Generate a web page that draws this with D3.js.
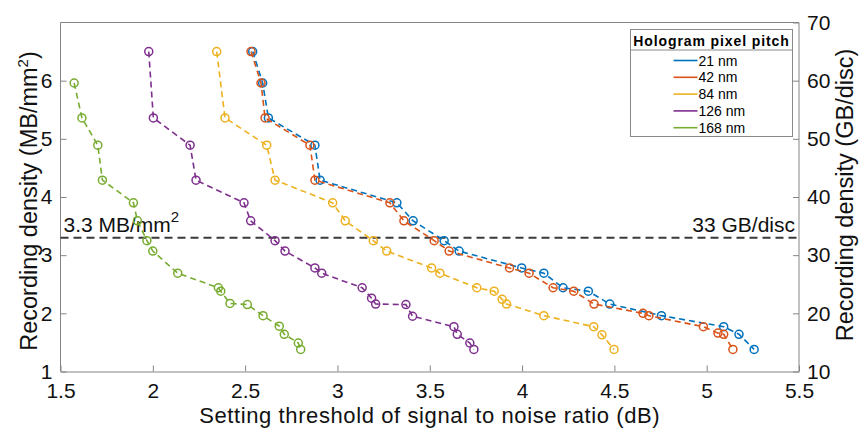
<!DOCTYPE html>
<html>
<head>
<meta charset="utf-8">
<script src="https://cdn.jsdelivr.net/npm/d3@7"></script>
<style>
  html, body { margin: 0; padding: 0; background: #fff; }
  svg { display: block; font-family: "Liberation Sans", Arial, sans-serif; }
</style>
</head>
<body>
<svg id="chart" width="859" height="428"></svg>
<script>
// Hologram pixel pitch series
const pitches = ["21 nm", "42 nm", "84 nm", "126 nm", "168 nm"];
const colors = ["#0072BD", "#D95319", "#EDB120", "#7E2F8E", "#77AC30"];

// Setting threshold of SNR (dB) and recording density (MB/mm^2) per pitch
const snr21  = [2.541, 2.595, 2.626, 2.878, 2.906, 3.322, 3.410, 3.578, 3.659, 3.998, 4.118, 4.222, 4.359, 4.475, 4.755, 5.092, 5.175, 5.257];
const dens21 = [6.50, 5.96, 5.36, 4.89, 4.29, 3.90, 3.59, 3.25, 3.07, 2.78, 2.69, 2.44, 2.38, 2.16, 1.96, 1.77, 1.64, 1.38];

const snr42  = [2.532, 2.586, 2.608, 2.851, 2.878, 3.284, 3.360, 3.524, 3.605, 3.932, 4.038, 4.168, 4.280, 4.390, 4.655, 4.687, 4.982, 5.061, 5.092, 5.142];
const dens42 = [6.50, 5.96, 5.36, 4.89, 4.29, 3.90, 3.59, 3.25, 3.07, 2.78, 2.69, 2.44, 2.38, 2.16, 2.00, 1.96, 1.77, 1.66, 1.64, 1.38];

const snr84  = [2.346, 2.391, 2.617, 2.662, 2.974, 3.042, 3.194, 3.267, 3.510, 3.555, 3.755, 3.849, 3.892, 3.916, 4.118, 4.388, 4.433, 4.498];
const dens84 = [6.50, 5.36, 4.89, 4.29, 3.90, 3.59, 3.25, 3.07, 2.78, 2.69, 2.44, 2.38, 2.24, 2.16, 1.96, 1.77, 1.63, 1.38];

const snr126  = [1.978, 2.003, 2.202, 2.234, 2.494, 2.530, 2.662, 2.716, 2.878, 2.915, 3.134, 3.185, 3.207, 3.371, 3.407, 3.631, 3.649, 3.717, 3.739];
const dens126 = [6.50, 5.36, 4.89, 4.29, 3.90, 3.59, 3.25, 3.07, 2.78, 2.69, 2.44, 2.26, 2.16, 2.15, 1.95, 1.77, 1.64, 1.49, 1.38];

const snr168  = [1.574, 1.616, 1.702, 1.727, 1.895, 1.917, 1.968, 2.000, 2.135, 2.355, 2.368, 2.418, 2.512, 2.597, 2.685, 2.712, 2.788, 2.801];
const dens168 = [5.96, 5.36, 4.89, 4.29, 3.90, 3.59, 3.25, 3.07, 2.69, 2.44, 2.38, 2.17, 2.15, 1.96, 1.78, 1.64, 1.49, 1.38];

// Axis ticks
const xTicks = [1.5, 2, 2.5, 3, 3.5, 4, 4.5, 5, 5.5];
const yLeftTicks = [1, 2, 3, 4, 5, 6];
const yRightTicks = [10, 20, 30, 40, 50, 60, 70];

// Reference capacity
const refDensity = 3.3;
const refLeftLabel = "3.3 MB/mm";
const refRightLabel = "33 GB/disc";

const seriesX = [snr21, snr42, snr84, snr126, snr168];
const seriesY = [dens21, dens42, dens84, dens126, dens168];
const series = pitches.map((name, i) => ({
  name, color: colors[i],
  points: seriesX[i].map((x, j) => ({ x, y: seriesY[i][j] }))
}));

const svg = d3.select("#chart");
const W = 859, H = 428;
const margin = { left: 60.5, right: 60, top: 22.5, bottom: 56.5 };
const x0 = margin.left, x1 = W - margin.right, y0 = H - margin.bottom, y1 = margin.top;

const x = d3.scaleLinear().domain([1.5, 5.5]).range([x0, x1]);
const yL = d3.scaleLinear().domain([1, 7]).range([y0, y1]);
const yR = d3.scaleLinear().domain([10, 70]).range([y0, y1]);

const axisColor = "#858585";
const textColor = "#111";
const fmt = d3.format("~f");

// Axes
const gx = svg.append("g").attr("transform", `translate(0,${y0})`)
  .call(d3.axisBottom(x).tickValues(xTicks).tickFormat(fmt).tickSizeInner(-6).tickSizeOuter(0).tickPadding(12));
const gyl = svg.append("g").attr("transform", `translate(${x0},0)`)
  .call(d3.axisLeft(yL).tickValues(yLeftTicks).tickFormat(fmt).tickSizeInner(-6).tickSizeOuter(0).tickPadding(8));
const gyr = svg.append("g").attr("transform", `translate(${x1},0)`)
  .call(d3.axisRight(yR).tickValues(yRightTicks).tickFormat(fmt).tickSizeInner(-6).tickSizeOuter(0).tickPadding(8));

[gx, gyl, gyr].forEach(g => {
  g.select(".domain").attr("stroke", axisColor).attr("stroke-width", 1);
  g.selectAll(".tick line").attr("stroke", axisColor);
  g.selectAll(".tick text").attr("fill", textColor).style("font-size", "21px")
    .style("font-family", "'Liberation Sans', Arial, sans-serif");
});
gyl.select(".domain").attr("d", `M0,${y0}V${y1}`);
gyr.select(".domain").attr("d", `M0,${y0}V${y1}`);

// Top border
svg.append("line").attr("x1", x0).attr("x2", x1).attr("y1", y1).attr("y2", y1)
  .attr("stroke", axisColor).attr("stroke-width", 1);

// Axis titles
svg.append("text")
  .attr("transform", `translate(${(x0 + x1) / 2},${H - 5})`)
  .attr("text-anchor", "middle").attr("fill", textColor).style("font-size", "22px")
  .style("letter-spacing", "0.6px")
  .text("Setting threshold of signal to noise ratio (dB)");

const lt = svg.append("text")
  .attr("transform", `translate(37,${(y0 + y1) / 2 + 4}) rotate(-90)`)
  .attr("text-anchor", "middle").attr("fill", textColor).style("font-size", "23.5px");
lt.append("tspan").text("Recording density (MB/mm");
lt.append("tspan").attr("dy", -9).style("font-size", "15px").text("2");
lt.append("tspan").attr("dy", 9).text(")");

svg.append("text")
  .attr("transform", `translate(853,${(y0 + y1) / 2 - 2}) rotate(-90)`)
  .attr("text-anchor", "middle").attr("fill", textColor).style("font-size", "23.5px")
  .text("Recording density (GB/disc)");

// Reference line at 3.3 MB/mm^2 (33 GB/disc)
svg.append("line")
  .attr("x1", x0).attr("x2", x1).attr("y1", yL(refDensity)).attr("y2", yL(refDensity))
  .attr("stroke", "#3a3a3a").attr("stroke-width", 2).attr("stroke-dasharray", "8,5");

const rl = svg.append("text").attr("x", x0 + 3).attr("y", yL(refDensity) - 6)
  .attr("fill", textColor).style("font-size", "21px");
rl.append("tspan").text(refLeftLabel);
rl.append("tspan").attr("dy", -10).style("font-size", "15px").text("2");

svg.append("text").attr("x", x1 - 4).attr("y", yL(refDensity) - 6)
  .attr("text-anchor", "end").attr("fill", textColor).style("font-size", "21px")
  .text(refRightLabel);

// Series: dashed lines with open circle markers
const line = d3.line().x(d => x(d.x)).y(d => yL(d.y));
const gs = svg.append("g").selectAll("g").data(series).join("g");
gs.append("path")
  .attr("d", d => line(d.points))
  .attr("fill", "none").attr("stroke", d => d.color)
  .attr("stroke-width", 1.6).attr("stroke-dasharray", "6,4");
gs.each(function (s) {
  d3.select(this).selectAll("circle").data(s.points).join("circle")
    .attr("cx", d => x(d.x)).attr("cy", d => yL(d.y)).attr("r", 4)
    .attr("fill", "none").attr("stroke", s.color).attr("stroke-width", 1.5);
});

// Legend
const lg = svg.append("g").attr("transform", "translate(630.5,29.5)");
const lw = 162, lh = 107;
lg.append("rect").attr("width", lw).attr("height", lh)
  .attr("fill", "#fff").attr("stroke", "#8a8a8a").attr("stroke-width", 1);
lg.append("line").attr("x1", 0).attr("x2", lw).attr("y1", 20.5).attr("y2", 20.5)
  .attr("stroke", "#8a8a8a").attr("stroke-width", 1);
lg.append("text").attr("x", lw / 2).attr("y", 16).attr("text-anchor", "middle")
  .attr("fill", "#000").style("font-size", "14px").style("font-weight", "bold")
  .style("letter-spacing", "0.9px").text("Hologram pixel pitch");
const items = lg.selectAll("g.item").data(series).join("g").attr("class", "item")
  .attr("transform", (d, i) => `translate(0,${31 + i * 16.8})`);
items.append("line").attr("x1", 43).attr("x2", 67).attr("y1", 0).attr("y2", 0)
  .attr("stroke", d => d.color).attr("stroke-width", 1.6);
items.append("text").attr("x", 68).attr("y", 5).attr("fill", "#000")
  .style("font-size", "14px").text(d => d.name);
</script>
</body>
</html>
